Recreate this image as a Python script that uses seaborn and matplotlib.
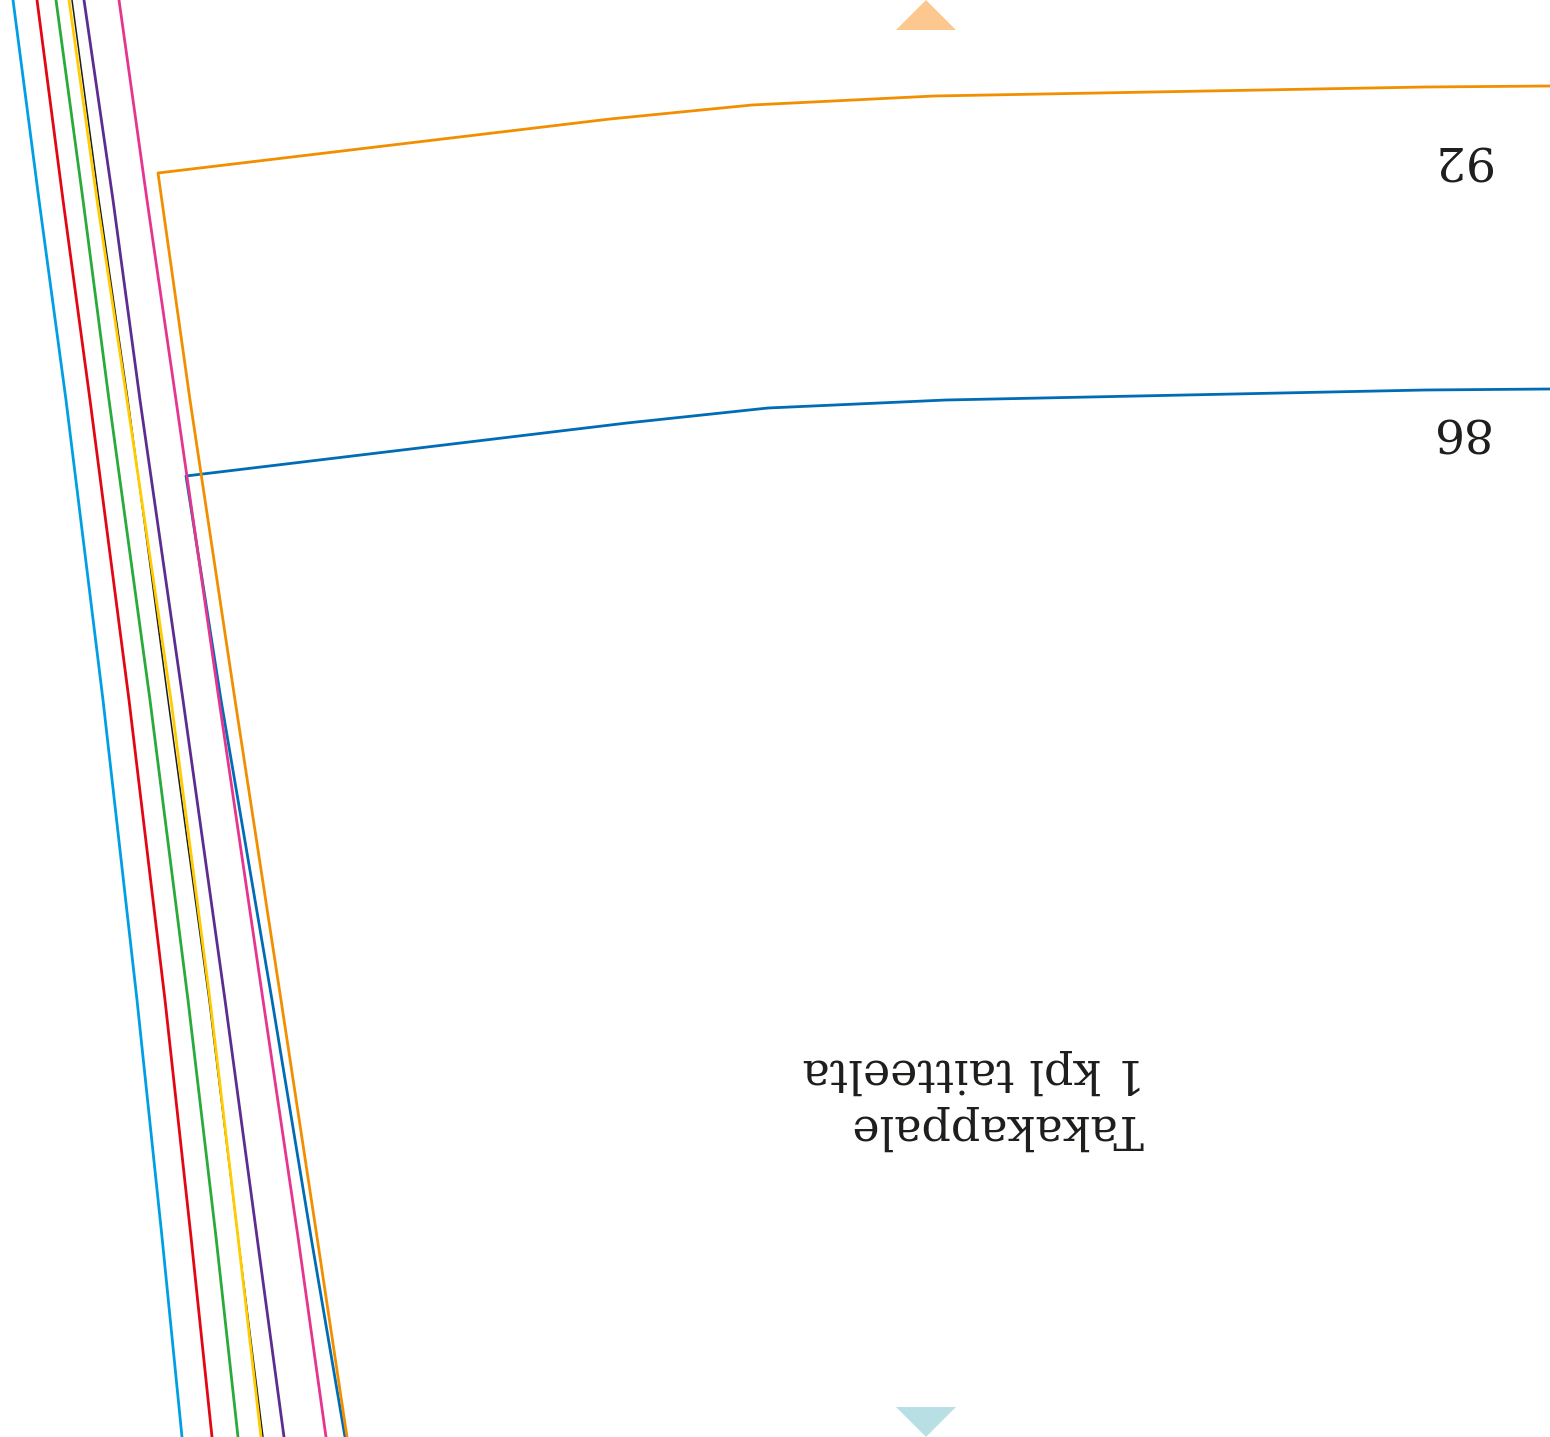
import pandas as pd
import seaborn as sns
import matplotlib.pyplot as plt

# pattern lines (x in px at each y level)
levels = [0, 200, 400, 700, 1000, 1237, 1437]
cyan_x = [13, 39, 66, 103, 137, 162, 182]
red_x = [37, 63, 90, 129, 165, 191, 212]
green_x = [56, 83, 109, 150, 188, 216, 238]
black_x = [72, 99, 128, 168, 209, 238, 263]
yellow_x = [69, 97, 127, 171, 210, 238, 261]
purple_x = [84, 113, 140, 183, 225, 257, 284]
pink_x = [119, 147, 176, 219, 263, 298, 326]

# the two outlines with a corner
blue_x = [1550, 1425, 946, 768, 627, 186, 221, 272, 311, 345]
blue_y = [389, 390, 400, 408, 423, 476, 700, 1000, 1237, 1437]
orange_x = [1550, 1425, 934, 752, 610, 158, 190, 235, 281, 317, 347]
orange_y = [86, 87, 96, 105, 119, 173, 400, 700, 1000, 1237, 1437]

# fold markers
top_tri_x = [896, 926, 956]
top_tri_y = [30, 0, 30]
bottom_tri_x = [896, 926, 956]
bottom_tri_y = [1407, 1437, 1407]

size_labels = ['92', '86']
size_label_x = [1460, 1458]
size_label_y = [158, 430]
note_lines = ['Takakappale', '1 kpl taitteelta']
note_x = [997, 974]
note_y = [1128, 1072]

sns.set_theme(style='white')
plt.rcParams['font.family'] = ['DejaVu Serif']

fig, ax = plt.subplots(figsize=(15.5, 14.37), dpi=100)
fig.subplots_adjust(left=0, right=1, top=1, bottom=0)

# drawing order matters, later lines sit on top
series = [
    (black_x, levels, '#1d1d1b', 1.1),
    (blue_x, blue_y, '#006cb5', 2.0),
    (cyan_x, levels, '#009fe3', 2.0),
    (red_x, levels, '#e30613', 2.0),
    (green_x, levels, '#2aaa3a', 2.0),
    (yellow_x, levels, '#ffcc00', 2.0),
    (purple_x, levels, '#5c2d91', 2.0),
    (pink_x, levels, '#e6358e', 2.0),
    (orange_x, orange_y, '#f18f00', 2.0),
]
for xs, ys, col, lw in series:
    df = pd.DataFrame({'x': xs, 'y': ys})
    sns.lineplot(data=df, x='x', y='y', sort=False, estimator=None,
                 color=col, linewidth=lw, ax=ax)

ax.fill(top_tri_x, top_tri_y, color='#fdc88f', linewidth=0)
ax.fill(bottom_tri_x, bottom_tri_y, color='#b8dfe3', linewidth=0)

for lab, x, y in zip(size_labels, size_label_x, size_label_y):
    ax.text(x, y, lab, rotation=180, ha='center', va='center', fontsize=34, color='#1d1d1b')
for lab, x, y in zip(note_lines, note_x, note_y):
    ax.text(x, y, lab, rotation=180, ha='center', va='center', fontsize=33, color='#1d1d1b')

ax.set_xlim(0, 1550)
ax.set_ylim(1437, 0)
ax.axis('off')

fig.savefig('out.png', dpi=100)
